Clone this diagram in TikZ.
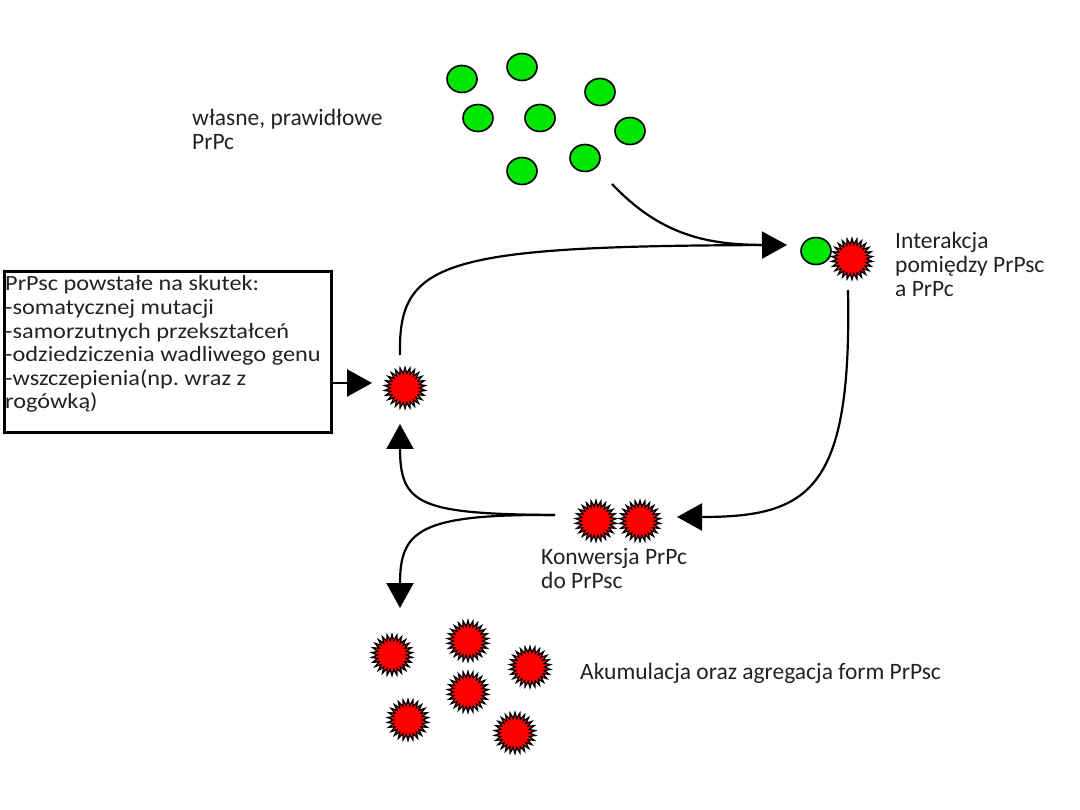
\documentclass[tikz,border=0pt]{standalone}
\usepackage{fontspec}
\setmainfont{Carlito}
\newfontfamily\boxfont{Carlito}[FakeStretch=1.12]
\usetikzlibrary{shapes.geometric,arrows.meta}
\definecolor{pgreen}{HTML}{00E600}
\definecolor{pred}{HTML}{FF0000}
\definecolor{txt}{HTML}{222222}
\begin{document}
\frenchspacing
\begin{tikzpicture}[x=1pt,y=-1pt,
  good/.style={ellipse,draw=black,line width=1.6pt,fill=pgreen,minimum width=30pt,minimum height=27pt,inner sep=0pt},
  bad/.style={star,star points=26,star point ratio=1.4,draw=black,line width=1.3pt,fill=pred,minimum size=41pt,inner sep=0pt},
  conn/.style={line width=2.2pt},
  arr/.style={conn,-{Triangle[length=25pt,width=27pt]}},
  lbl/.style={font=\fontsize{23.5}{24}\selectfont,text=txt,align=left,anchor=base west,inner sep=0pt},
  blbl/.style={font=\boxfont\fontsize{21.7}{23.6}\selectfont,text=txt,align=left,anchor=base west,inner sep=0pt},
  boxst/.style={draw=black,line width=3.2pt,anchor=north west,minimum width=327pt,minimum height=161pt,inner sep=0pt}]
\useasboundingbox (0,0) rectangle (1080,810);
% green PrPc
\node[good] (g1) at (462,79) {};
\node[good] (g2) at (522,67) {};
\node[good] (g3) at (600,92) {};
\node[good] (g4) at (478,118) {};
\node[good] (g5) at (540,118) {};
\node[good] (g6) at (630,131) {};
\node[good] (g7) at (585,158) {};
\node[good] (g8) at (522,171) {};
\node[lbl] (l1) at (192,150) {własne, prawidłowe\\PrPc};
% interaction
\node[good] (ig) at (816,251) {};
\node[bad] (ir) at (852,259) {};
\node[lbl] (l2) at (895,297) {Interakcja\\pomiędzy PrPsc\\a PrPc};
% box
\node[boxst] (box) at (3,270) {};
\node[blbl] (boxtxt) at (5,409) {PrPsc powstałe na skutek:\\-somatycznej mutacji\\-samorzutnych przekształceń\\-odziedziczenia wadliwego genu\\-wszczepienia(np. wraz z\\rogówką)};
\node[bad] (s1) at (405,388) {};
% conversion
\node[bad] (c1) at (596,521) {};
\node[bad] (c2) at (640,521) {};
\node[lbl] (l3) at (541,588) {Konwersja PrPc\\do PrPsc};
% accumulation
\node[bad] (a1) at (392,655) {};
\node[bad] (a2) at (468,641) {};
\node[bad] (a3) at (530,667) {};
\node[bad] (a4) at (468,692) {};
\node[bad] (a5) at (408,720) {};
\node[bad] (a6) at (515,733) {};
\node[lbl] (l4) at (580,679) {Akumulacja oraz agregacja form PrPsc};
% coordinates
\coordinate (gstart) at (612,184);
\coordinate (lstart) at (400,355);
\coordinate (itip) at (787,245);
\coordinate (rstart) at (848,290);
\coordinate (ctip) at (677,517);
\coordinate (bstart) at (555,515);
\coordinate (utip) at (400,424);
\coordinate (dtip) at (400,608);
\coordinate (stip) at (372,383);
% connectors
\draw[arr] (lstart) .. controls (398,262) and (440,246) .. (itip);
\draw[conn] (gstart) .. controls (665,240) and (715,245) .. (770,245);
\draw[arr] (rstart) .. controls (852,490) and (810,517) .. (ctip);
\draw[arr] (bstart) .. controls (420,514) and (400,505) .. (utip);
\draw[arr] (bstart) .. controls (420,514) and (400,530) .. (dtip);
\draw[arr] (box.east |- stip) -- (stip);
\end{tikzpicture}
\end{document}
